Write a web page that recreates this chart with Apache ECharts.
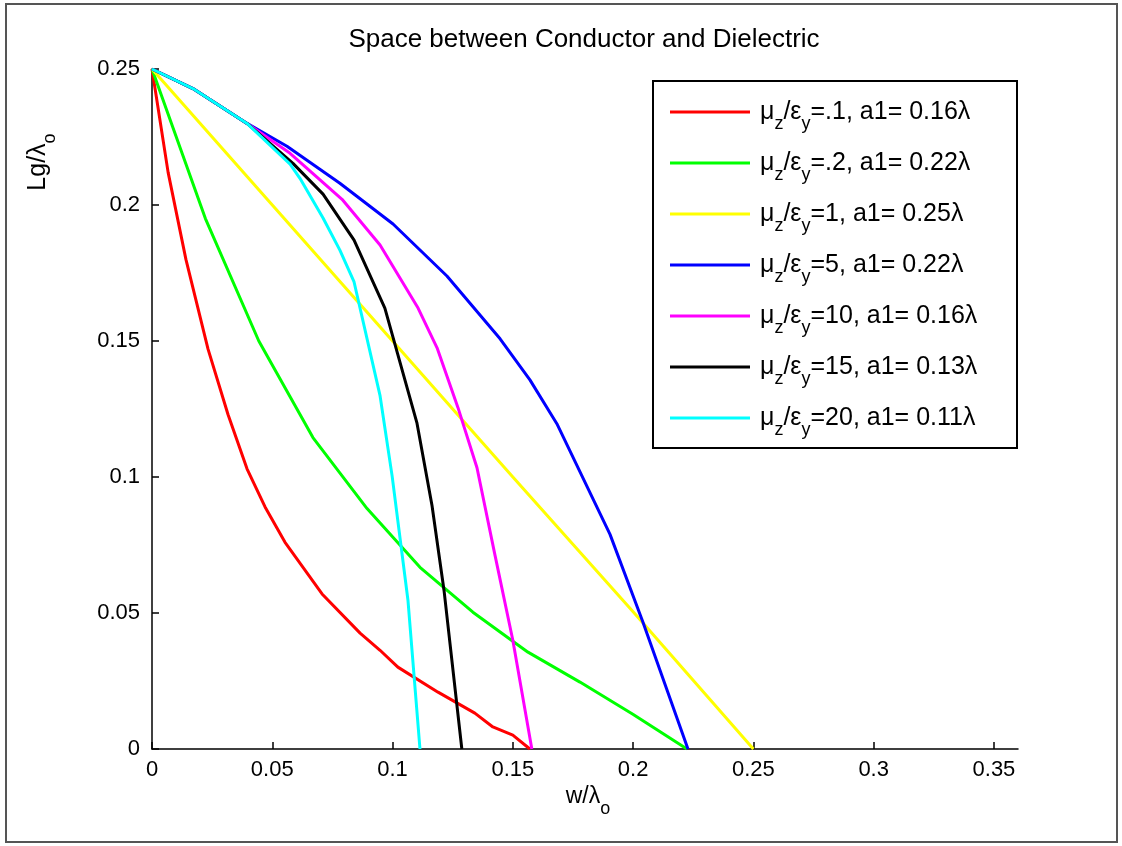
<!DOCTYPE html>
<html>
<head>
<meta charset="utf-8">
<script src="https://cdn.jsdelivr.net/npm/echarts@6/dist/echarts.min.js"></script>
<style>
html, body { margin: 0; padding: 0; background: #fff; }
#main { width: 1122px; height: 846px; }
</style>
</head>
<body>
<div id="main"></div>
<script>
// ratio mu_z/eps_y and a1 for each curve
var ratios = ['.1', '.2', '1', '5', '10', '15', '20'];
var a1s = ['0.16', '0.22', '0.25', '0.22', '0.16', '0.13', '0.11'];
var colors = ['#ff0000', '#00ff00', '#ffff00', '#0000ff', '#ff00ff', '#000000', '#00ffff'];

var xTicks = [0, 0.05, 0.1, 0.15, 0.2, 0.25, 0.3, 0.35];
var yTicks = [0, 0.05, 0.1, 0.15, 0.2, 0.25];

// curve points (w/lambda, Lg/lambda)
var redX = [0, 0.0067, 0.0141, 0.0233, 0.0316, 0.0395, 0.047, 0.0553, 0.0707, 0.0865, 0.0948, 0.1022, 0.1189, 0.1342, 0.1417, 0.150, 0.1571];
var redY = [0.25, 0.212, 0.180, 0.147, 0.123, 0.103, 0.089, 0.076, 0.057, 0.0426, 0.0363, 0.0301, 0.0209, 0.0132, 0.0081, 0.0051, 0];

var greenX = [0, 0.0222, 0.0444, 0.0669, 0.0894, 0.1114, 0.1334, 0.1563, 0.1779, 0.1999, 0.2224];
var greenY = [0.25, 0.195, 0.150, 0.1145, 0.0884, 0.0668, 0.0503, 0.0356, 0.0246, 0.0128, 0];

var yellowX = [0, 0.05, 0.1, 0.15, 0.2, 0.25];
var yellowY = [0.25, 0.2, 0.15, 0.1, 0.0505, 0];

var blueX = [0, 0.017, 0.0395, 0.0561, 0.0781, 0.1002, 0.1226, 0.1447, 0.1571, 0.1683, 0.1904, 0.2041, 0.2228];
var blueY = [0.25, 0.2428, 0.230, 0.2216, 0.208, 0.193, 0.1739, 0.1508, 0.1357, 0.1196, 0.0789, 0.0466, 0];

var magentaX = [0, 0.017, 0.0395, 0.0574, 0.079, 0.0948, 0.1106, 0.1185, 0.1272, 0.1351, 0.1426, 0.150, 0.1579];
var magentaY = [0.25, 0.2428, 0.230, 0.219, 0.2021, 0.1853, 0.1621, 0.1475, 0.1255, 0.1034, 0.0712, 0.040, 0];

var blackX = [0, 0.017, 0.0395, 0.0586, 0.0711, 0.084, 0.0968, 0.1101, 0.1164, 0.1214, 0.1288];
var blackY = [0.25, 0.2428, 0.230, 0.2153, 0.204, 0.1871, 0.1621, 0.12, 0.0895, 0.0583, 0];

var cyanX = [0, 0.017, 0.0395, 0.0574, 0.0615, 0.0711, 0.0781, 0.084, 0.0948, 0.0998, 0.1064, 0.1114];
var cyanY = [0.25, 0.2428, 0.230, 0.2150, 0.2098, 0.1952, 0.1834, 0.1717, 0.1299, 0.1005, 0.0547, 0];

var curvesX = [redX, greenX, yellowX, blueX, magentaX, blackX, cyanX];
var curvesY = [redY, greenY, yellowY, blueY, magentaY, blackY, cyanY];

var FONT = '"Liberation Sans", Arial, Helvetica, sans-serif';

function zip(xs, ys) {
    var out = [];
    for (var i = 0; i < xs.length; i++) out.push([xs[i], ys[i]]);
    return out;
}

// rich styles for text with subscripts (main text centred, subscript pushed down by top padding)
function subRich(mainSize, subSize, firstPad) {
    return {
        f: { fontSize: mainSize, lineHeight: 40, verticalAlign: 'middle', padding: [0, 0, 0, firstPad], fontFamily: FONT, color: '#000', fill: '#000' },
        m: { fontSize: mainSize, lineHeight: 40, verticalAlign: 'middle', fontFamily: FONT, color: '#000', fill: '#000' },
        s: { fontSize: subSize, lineHeight: 17, padding: [23, 0, 0, 0], verticalAlign: 'top', fontFamily: FONT, color: '#000', fill: '#000' }
    };
}

var names = [];
var series = [];
for (var i = 0; i < ratios.length; i++) {
    var nm = 'μz/εy=' + ratios[i] + ', a1= ' + a1s[i] + 'λ';
    names.push(nm);
    series.push({
        name: nm,
        type: 'line',
        data: zip(curvesX[i], curvesY[i]),
        symbol: 'none',
        showSymbol: false,
        smooth: false,
        color: colors[i],
        lineStyle: { color: colors[i], width: 3 },
        z: 2 + i
    });
}

var myChart = echarts.init(document.getElementById('main'));

var option = {
    backgroundColor: '#fff',
    animation: false,
    textStyle: { fontFamily: FONT },
    grid: { left: 152, right: 104, top: 69, bottom: 97, containLabel: false },
    legend: {
        data: names,
        orient: 'vertical',
        left: 670,
        top: 92,
        padding: 0,
        itemGap: 10,
        itemWidth: 80,
        itemHeight: 3,
        icon: 'rect',
        z: 10,
        selectedMode: false,
        formatter: function (name) {
            var k = names.indexOf(name);
            return '{f|μ}{s|z}{m|/ε}{s|y}{m|=' + ratios[k] + ', a1= ' + a1s[k] + 'λ}';
        },
        textStyle: {
            color: '#000',
            rich: subRich(25, 18, 5)
        }
    },
    xAxis: {
        type: 'value',
        min: 0,
        max: 0.36,
        interval: 0.05,
        axisLine: { show: true, onZero: false, lineStyle: { color: '#000', width: 1.5 } },
        axisTick: { show: true, inside: true, length: 7, lineStyle: { color: '#000', width: 1.5 } },
        splitLine: { show: false },
        axisLabel: { color: '#000', fontSize: 22, margin: 10, fontFamily: FONT }
    },
    yAxis: {
        type: 'value',
        min: 0,
        max: 0.25,
        interval: 0.05,
        axisLine: { show: true, onZero: false, lineStyle: { color: '#000', width: 1.5 } },
        axisTick: { show: true, inside: true, length: 7, lineStyle: { color: '#000', width: 1.5 } },
        splitLine: { show: false },
        axisLabel: { color: '#000', fontSize: 22, margin: 12, fontFamily: FONT }
    },
    graphic: [
        {
            type: 'rect', z: 0,
            shape: { x: 6, y: 4, width: 1111, height: 838 },
            style: { fill: 'none', stroke: '#555', lineWidth: 2 }
        },
        {
            type: 'rect', z: 5,
            shape: { x: 653, y: 81, width: 364, height: 367 },
            style: { fill: '#fff', stroke: '#000', lineWidth: 2 }
        },
        {
            type: 'text', z: 6,
            x: 584, y: 40,
            style: {
                text: 'Space between Conductor and Dielectric',
                fill: '#000', font: '26px ' + FONT,
                align: 'center', verticalAlign: 'middle'
            }
        },
        {
            type: 'text', z: 6,
            x: 588, y: 797,
            style: {
                text: '{m|w/λ}{s|o}',
                align: 'center', verticalAlign: 'middle',
                rich: subRich(23, 18, 0)
            }
        },
        {
            type: 'text', z: 6,
            x: 38, y: 162,
            rotation: Math.PI / 2,
            style: {
                text: '{m|Lg/λ}{s|o}',
                align: 'center', verticalAlign: 'middle',
                rich: subRich(25, 18, 0)
            }
        }
    ],
    series: series
};

myChart.setOption(option);
</script>
</body>
</html>
